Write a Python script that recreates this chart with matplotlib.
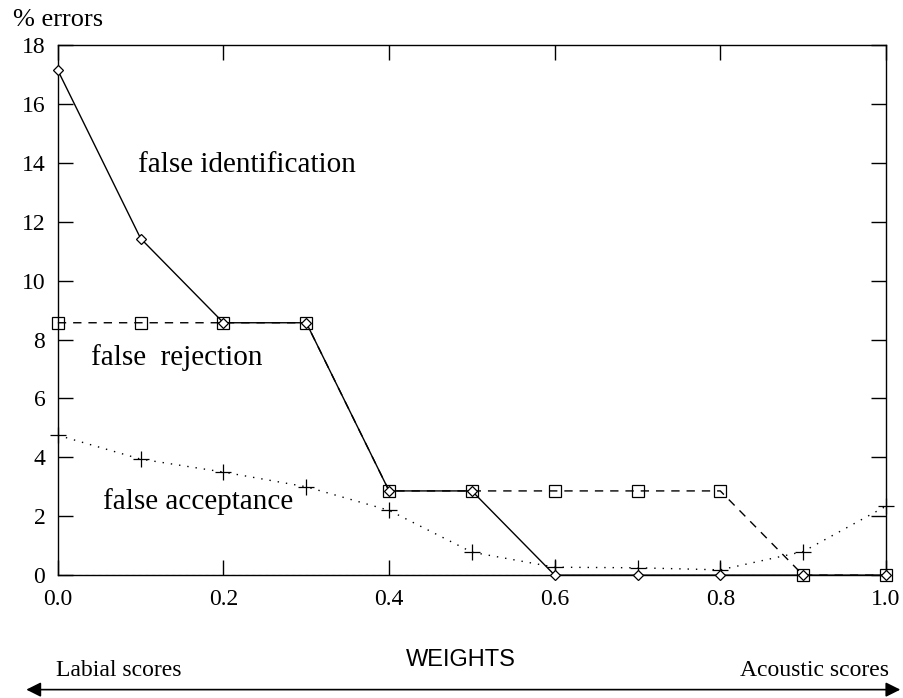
import matplotlib.pyplot as plt
import numpy as np

plt.rcParams['font.family'] = ['Liberation Serif', 'DejaVu Serif']

# weights between labial (0) and acoustic (1) scores
weights = [0.0, 0.1, 0.2, 0.3, 0.4, 0.5, 0.6, 0.7, 0.8, 0.9, 1.0]
false_identification = [17.14, 11.43, 8.57, 8.57, 2.86, 2.86, 0, 0, 0, 0, 0]
false_rejection = [8.57, 8.57, 8.57, 8.57, 2.86, 2.86, 2.86, 2.86, 2.86, 0, 0]
false_acceptance = [4.75, 3.94, 3.5, 3.0, 2.2, 0.78, 0.27, 0.25, 0.18, 0.8, 2.34]

fig = plt.figure(figsize=(9.04, 6.98), dpi=100)
ax = fig.add_axes([0.064, 0.176, 0.916, 0.7595])

# zero line
ax.axhline(0, color='gray', lw=0.8, ls=(0, (3, 3)), zorder=1)

ax.plot(weights, false_identification, color='black', lw=1, marker='D', ms=5,
        mfc='white', mec='black', mew=0.9, zorder=4, clip_on=False)
ax.plot(weights, false_rejection, color='black', lw=1, ls=(0, (6, 5)), marker='s',
        ms=8, mfc='none', mec='black', mew=0.9, zorder=3, clip_on=False)
ax.plot(weights, false_acceptance, color='black', lw=1, ls=(0, (1, 5)), marker='+',
        ms=11, mew=0.9, zorder=3, clip_on=False)

ax.text(0.097, 13.69, 'false identification', fontsize=21, va='baseline')
ax.text(0.040, 7.13, 'false  rejection', fontsize=21, va='baseline')
ax.text(0.054, 2.24, 'false acceptance', fontsize=21, va='baseline')

ax.set_xlim(0, 1)
ax.set_ylim(0, 18)
ax.set_xticks(np.arange(0, 1.01, 0.2))
ax.set_xticklabels(['0.0', '0.2', '0.4', '0.6', '0.8', '1.0'])
ax.set_yticks(range(0, 19, 2))
ax.tick_params(direction='in', length=11, width=1, labelsize=17,
               top=True, right=True)
ax.tick_params(axis='x', pad=10)
ax.tick_params(axis='y', pad=9)
for s in ax.spines.values():
    s.set_linewidth(1)

fig.text(0.014, 0.972, '% errors', fontsize=19, va='center')
fig.text(0.51, 0.055, 'WEIGHTS', fontsize=17, ha='center', va='center',
         family=['Liberation Sans Narrow', 'Liberation Sans'])
fig.text(0.062, 0.039, 'Labial scores', fontsize=17, va='center')
fig.text(0.983, 0.039, 'Acoustic scores', fontsize=17, va='center', ha='right')
fig.add_artist(plt.Annotation('', xy=(0.026, 0.012), xytext=(0.999, 0.012),
                              xycoords='figure fraction',
                              arrowprops=dict(arrowstyle='<|-|>', color='black',
                                              lw=1.2, mutation_scale=22)))

fig.savefig('out.png', dpi=100)
